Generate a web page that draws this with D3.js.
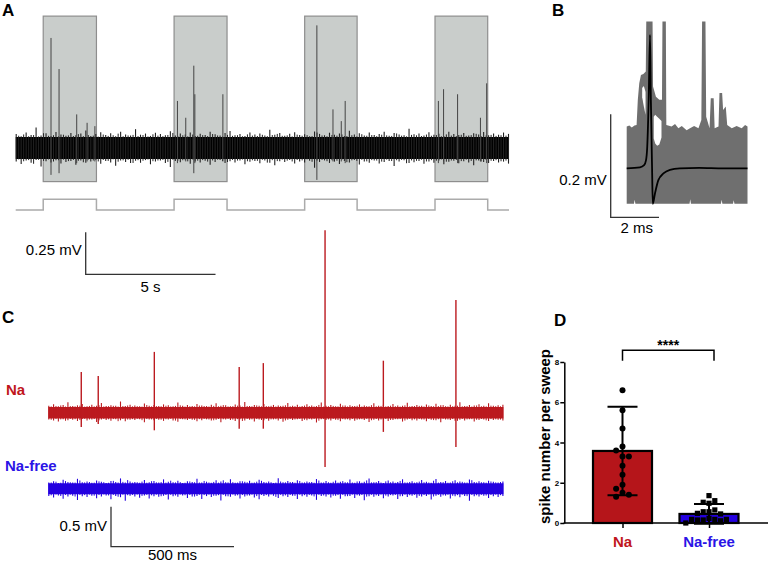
<!DOCTYPE html>
<html><head><meta charset="utf-8">
<script src="https://cdn.jsdelivr.net/npm/d3@7"></script>
<style>
body{margin:0;background:#fff}
svg{display:block}
text{font-family:"Liberation Sans",Arial,Helvetica,sans-serif}
</style>
</head><body>
<svg id="fig" width="770" height="562"></svg>
<script>
// ================= DATA =================
// ---- Panel A : extracellular trace with light stimulation (s, mV) ----
const aDuration = 19;
const aStimOn  = [1.06, 6.10, 11.13, 16.15];
const aStimOff = [3.11, 8.14, 13.15, 18.18];
const aSpikeT    = [1.36,1.67,2.35,2.75,3.05, 6.23,6.55,6.86,6.90,7.98, 11.60,12.22,12.54,12.69, 16.28,16.48,17.02,17.90,18.14];
const aSpikeUp   = [0.655,0.47,0.20,0.15,0.13, 0.28,0.18,0.49,0.32,0.32, 0.73,0.23,0.16,0.28, 0.28,0.35,0.32,0.18,0.385];
const aSpikeDown = [0.16,0.15,0.09,0.08,0.08, 0.09,0.08,0.15,0.09,0.08, 0.19,0.08,0.08,0.09, 0.09,0.08,0.09,0.08,0.09];
// noise: dense core half-width and envelope peaks (µV)
const aNoiseCore = 66;
const aNoiseUp = [84,70,92,78,122,75,88,71,95,80,73,90,76,86,104,72,83,94,77,88,70,97,81,75,112,79,86,72,91,83,76,99,74,87,80,93,71,85,78,96,82,74,89,101,76,84,72,92,80,87,75,108,79,90,73,85,94,77,82,70,98,84,76,91,79,86,72,103,81,88,75,93,78,84,96,73,89,80,76,115,82,87,74,94,79,85,71,97,83,77,90,74,88,81,95,76,86,79,92,84];
const aNoiseDown = [80,95,74,88,72,110,79,86,73,92,84,77,99,75,88,81,70,94,78,86,105,74,83,90,76,88,72,97,81,75,89,113,78,85,73,94,80,87,76,100,83,71,90,79,86,74,96,82,77,91,75,88,102,79,84,72,93,80,87,76,118,83,74,89,81,95,77,86,72,98,80,88,75,92,84,78,107,81,73,90,85,77,94,80,88,74,96,82,76,91,79,87,103,75,84,90,78,86,81,93];

// ---- Panel B : superimposed spikes (ms, mV) ----
const bTopT = [0,0.11,0.21,0.32,0.41,0.46,0.52,0.59,0.69,0.79,0.81,1.07,1.09,1.21,1.35,1.46,1.48,1.62,1.64,1.86,2.0,2.14,2.28,2.48,2.62,2.79,2.97,3.09,3.12,3.26,3.29,3.43,3.48,3.60,3.64,3.80,3.84,3.95,3.99,4.10,4.16,4.35,4.55,4.76,4.90,5.0];
const bTopV = [0.081,0.083,0.079,0.083,0.084,0.133,0.165,0.181,0.183,0.188,0.285,0.285,0.159,0.139,0.133,0.133,0.285,0.285,0.084,0.081,0.086,0.078,0.082,0.074,0.078,0.082,0.078,0.094,0.285,0.285,0.100,0.078,0.136,0.136,0.078,0.081,0.146,0.146,0.113,0.120,0.084,0.078,0.082,0.078,0.084,0.081];
const bBotT = [0,0.30,0.33,0.36,1.20,2.60,2.63,2.66,3.90,3.93,3.96,4.40,4.43,4.46,5.0];
const bBotV = [-0.069,-0.069,-0.061,-0.069,-0.069,-0.069,-0.060,-0.069,-0.069,-0.061,-0.069,-0.069,-0.062,-0.069,-0.069];
const bHoleT   = [1.12,1.18,1.26,1.35,1.44];
const bHoleTop = [0.100,0.104,0.100,0.096,0.092];
const bHoleBot = [0.058,0.048,0.044,0.046,0.060];
const bSliverT   = [0.64,0.71,0.78];
const bSliverTop = [0.156,0.160,0.148];
const bSliverBot = [0.138,0.120,0.104];
const bMeanT = [0,0.55,0.72,0.80,0.85,0.91,0.965,1.0,1.05,1.08,1.17,1.31,1.52,1.79,2.2,3.0,4.0,5.0];
const bMeanV = [0,0.002,0.006,0.016,0.042,0.133,0.259,0.133,0.0,-0.069,-0.049,-0.023,-0.010,-0.003,0,0.001,0,0];

// ---- Panel C : Na vs Na-free traces (ms, mV) ----
const cDuration = 1850;
const cSeries = ["Na","Na-free"];
const cSpikeT    = [134,203,431,776,874,1125,1362,1657];
const cSpikeUp   = [0.51,0.46,0.76,0.57,0.62,2.28,0.65,1.41];
const cSpikeDown = [0.18,0.14,0.22,0.20,0.20,0.68,0.24,0.43];
const cRedCore = 72, cBlueCore = 68;
const cRedUp = [88,105,82,96,130,84,92,110,80,98,86,120,83,94,88,140,85,100,90,82,115,87,96,84,104,92,80,126,88,97,85,108,90,83,99,118,86,93,81,102,89,135,84,95,87,110,82,97,91,86,122,88,99,84,106,90,83,128,87,96,82,112,89,94,85,104,91,80,117,86,98,84,109,90,87,124,83,95,88,101,85,113,92,81,99,87,131,84,96,90,106,86,119,88,94,100];
const cRedDown = [85,96,110,82,93,88,104,80,97,86,115,84,92,100,83,95,108,87,91,81,120,86,94,89,102,84,98,112,82,90,87,106,95,83,99,88,118,85,92,104,81,96,89,110,86,93,100,84,97,113,88,91,83,105,94,86,122,82,90,98,87,108,84,95,101,83,92,116,88,97,85,103,90,82,111,86,94,99,84,107,89,93,118,85,91,102,87,96,83,109,90,86,104,92,88,97];
const cBlueUp = [80,95,74,112,86,78,125,82,90,76,104,88,72,98,84,130,79,92,86,75,110,83,96,78,118,87,81,100,74,93,85,127,80,89,77,106,91,83,120,76,95,88,102,79,114,85,90,73,133,82,97,86,108,78,92,84,122,80,99,75,105,89,83,116,77,94,87,128,81,96,74,103,90,85,119,79,93,82,110,88,76,124,84,97,80,107,91,78,115,86,95,83,101,88,79,92];
const cBlueDown = [90,110,84,125,95,88,140,92,102,86,118,97,83,130,90,105,150,88,96,112,85,122,94,100,87,135,92,99,84,116,96,89,128,91,104,86,145,93,98,88,120,95,85,110,132,90,97,87,114,94,102,86,126,92,99,85,138,91,96,108,88,124,94,90,116,86,142,93,100,89,118,95,84,128,92,103,87,112,96,90,134,88,99,85,120,94,106,89,148,92,97,86,115,93,101,90];

// ---- Panel D : spike number per sweep ----
const dCategories = ["Na","Na-free"];
const dMeans = [3.58, 0.45];
const dSD    = [2.20, 0.49];
const dNaPoints     = [6.6,5.6,4.7,3.8,3.6,3.3,3.3,2.85,2.4,1.9,1.7,1.5,1.3,1.4];
const dNaFreePoints = [1.36,0.98,1.03,1.11,0.56,0.56,0.65,0.48,0.45,0.23,0.15,0.18,0.15,0.11,0.18,0.18,0.0];
const dTicks = [0,2,4,6,8];
const dSignif = "****";
const dYLabel = "spike number per sweep";

// ================= DRAWING =================
const RED = "#bb1a1f", BLUE = "#2400e0";
const svg = d3.select("#fig");
svg.append("rect").attr("width",770).attr("height",562).attr("fill","#fff");

function txt(g, s, x, y, opt={}) {
  return g.append("text").attr("x",x).attr("y",y).text(s)
    .attr("font-size",opt.size||15).attr("font-weight",opt.bold?"bold":"normal")
    .attr("text-anchor",opt.anchor||"start").attr("fill",opt.fill||"#000");
}
// noisy trace: dense core band plus hair-like excursions at each sampled peak
function noisyTrace(g, x, y, core, up, down, color, hairColor) {
  const n = Math.min(up.length, down.length);
  const [x0, x1] = x.range();
  const xi = d3.scaleLinear().domain([0, n - 1]).range([x0 + 0.5, x1 - 0.5]);
  g.append("path").datum([x0, x1])
    .attr("d", d3.area().x(d => d).y0(y(-core / 1000)).y1(y(core / 1000)))
    .attr("fill", color);
  g.append("g").selectAll("line").data(d3.range(n)).join("line")
    .attr("x1", i => xi(i)).attr("x2", i => xi(i))
    .attr("y1", i => y(up[i] / 1000)).attr("y2", i => y(-down[i] / 1000))
    .attr("stroke", hairColor).attr("stroke-width", 1.1);
  // second, offset set of shorter hairs (down values used upward, up values downward)
  g.append("g").selectAll("line").data(d3.range(n - 1)).join("line")
    .attr("x1", i => (xi(i) + xi(i + 1)) / 2).attr("x2", i => (xi(i) + xi(i + 1)) / 2)
    .attr("y1", i => y((core + (down[i] - core) * 0.5) / 1000)).attr("y2", i => y(-(core + (up[i + 1] - core) * 0.5) / 1000))
    .attr("stroke", hairColor).attr("stroke-width", 1);
}
// panel letters
[["A",2,16],["B",552,16],["C",2,323],["D",554,326]].forEach(p=>txt(svg,p[0],p[1],p[2],{size:17,bold:true}));

// ---------- Panel A ----------
const gA = svg.append("g");
const xA = d3.scaleLinear().domain([0,aDuration]).range([15.7,509]);
const yA = d3.scaleLinear().domain([0,1]).range([148,-20]);
const stim = d3.zip(aStimOn, aStimOff);
gA.selectAll("rect.stim").data(stim).join("rect")
  .attr("x",d=>xA(d[0])).attr("width",d=>xA(d[1])-xA(d[0]))
  .attr("y",yA(0.785)).attr("height",yA(-0.2)-yA(0.785))
  .attr("fill","#c9cdcb").attr("stroke","#8e8e8e").attr("stroke-width",1.2);
noisyTrace(gA, xA, yA, aNoiseCore, aNoiseUp, aNoiseDown, "#000", "#222");
gA.selectAll("line.spk").data(aSpikeT).join("line")
  .attr("x1",d=>xA(d)).attr("x2",d=>xA(d))
  .attr("y1",(d,i)=>yA(aSpikeUp[i])).attr("y2",(d,i)=>yA(-aSpikeDown[i]))
  .attr("stroke","#444").attr("stroke-width",1);
// stimulus trace
const yStim = d3.scaleLinear().domain([0,1]).range([210,199.3]);
const stimPts = [[0,0]];
stim.forEach(([on,off])=>{stimPts.push([on,0],[on,1],[off,1],[off,0]);});
stimPts.push([aDuration,0]);
gA.append("path").datum(stimPts)
  .attr("d",d3.line().x(d=>xA(d[0])).y(d=>yStim(d[1])))
  .attr("fill","none").attr("stroke","#ababab").attr("stroke-width",1.5);
// scale bar A
{
  const x0=85.7, y0=274.3;
  const h = yA(0)-yA(0.25), w = xA(5)-xA(0);
  gA.append("path").attr("d",`M${x0},${y0-h}V${y0}H${x0+w}`).attr("fill","none").attr("stroke","#333").attr("stroke-width",1.3);
  txt(gA,"0.25 mV",x0-4,255,{anchor:"end"});
  txt(gA,"5 s",x0+w/2,292,{anchor:"middle"});
}

// ---------- Panel B ----------
const gB = svg.append("g");
const xB = d3.scaleLinear().domain([0,5]).range([626.7,747.5]);
const yB = d3.scaleLinear().domain([0,1]).range([168.3,168.3-515]);
const envTop = bTopT.map((t,i)=>[t,bTopV[i]]);
const envBot = bBotT.map((t,i)=>[t,bBotV[i]]).reverse();
const lineB = d3.line().x(d=>xB(d[0])).y(d=>yB(d[1]));
gB.append("path").attr("d",lineB(envTop.concat(envBot))+"Z").attr("fill","#6f6f6f");
function holeArea(T,top,bot){
  const pts = T.map((t,i)=>[t,top[i]]).concat(T.map((t,i)=>[t,bot[i]]).reverse());
  gB.append("path").attr("d",lineB(pts)+"Z").attr("fill","#fff");
}
holeArea(bHoleT,bHoleTop,bHoleBot);
holeArea(bSliverT,bSliverTop,bSliverBot);
gB.append("path").datum(bMeanT.map((t,i)=>[t,bMeanV[i]]))
  .attr("d",d3.line().x(d=>xB(d[0])).y(d=>yB(d[1])).curve(d3.curveMonotoneX))
  .attr("fill","none").attr("stroke","#000").attr("stroke-width",1.8);
{
  const x0=610.7, y0=217.3;
  const h = yB(0)-yB(0.2), w = xB(2)-xB(0);
  gB.append("path").attr("d",`M${x0},${y0-h}V${y0}H${x0+w}`).attr("fill","none").attr("stroke","#333").attr("stroke-width",1.3);
  txt(gB,"0.2 mV",x0-4,185,{anchor:"end"});
  txt(gB,"2 ms",x0+w/2+2,233,{anchor:"middle"});
}

// ---------- Panel C ----------
const gC = svg.append("g");
const xC = d3.scaleLinear().domain([0,cDuration]).range([48.3,503.4]);
const yRed = d3.scaleLinear().domain([0,1]).range([412.7,332.7]);
const yBlue = d3.scaleLinear().domain([0,1]).range([488.8,408.8]);
noisyTrace(gC, xC, yRed, cRedCore, cRedUp, cRedDown, RED, RED);
gC.selectAll("line.spk").data(cSpikeT).join("line")
  .attr("x1",d=>xC(d)).attr("x2",d=>xC(d))
  .attr("y1",(d,i)=>yRed(cSpikeUp[i])).attr("y2",(d,i)=>yRed(-cSpikeDown[i]))
  .attr("stroke",RED).attr("stroke-width",1.4);
noisyTrace(gC, xC, yBlue, cBlueCore, cBlueUp, cBlueDown, BLUE, BLUE);
txt(gC,cSeries[0],6,395,{bold:true,fill:"#c0161c"});
txt(gC,cSeries[1],5,471,{bold:true,fill:"#2a14e6"});
{
  const x0=111, y0=546.7;
  const h = yRed(0)-yRed(0.5), w = xC(500)-xC(0);
  gC.append("path").attr("d",`M${x0},${y0-h}V${y0}H${x0+w}`).attr("fill","none").attr("stroke","#333").attr("stroke-width",1.3);
  txt(gC,"0.5 mV",x0-4,531,{anchor:"end"});
  txt(gC,"500 ms",x0+w/2,560,{anchor:"middle"});
}

// ---------- Panel D ----------
const gD = svg.append("g");
const yD = d3.scaleLinear().domain([0,8]).range([523,362]);
const xD = d3.scalePoint().domain(dCategories).range([622.5,709]);
const barW = 59;
const axX = 564.3;
gD.selectAll("rect.bar").data(dCategories).join("rect")
  .attr("x",d=>xD(d)-barW/2).attr("width",barW)
  .attr("y",(d,i)=>yD(dMeans[i])).attr("height",(d,i)=>yD(0)-yD(dMeans[i]))
  .attr("fill",(d,i)=>i===0?"#b5151a":BLUE).attr("stroke","#000").attr("stroke-width",2.2);
dCategories.forEach((c,i)=>{
  const cx = xD(c), lo = yD(dMeans[i]-dSD[i]), hi = yD(dMeans[i]+dSD[i]);
  gD.append("path").attr("d",`M${cx},${lo}V${hi}M${cx-15},${hi}H${cx+15}M${cx-15},${lo}H${cx+15}`)
    .attr("fill","none").attr("stroke","#000").attr("stroke-width",2);
});
function dodge(vals, diam){
  const placed=[];
  return vals.map(v=>{
    const py=yD(v); let off=0;
    for(let k=0;k<30;k++){
      const cand = k===0?0:(k%2?-1:1)*Math.ceil(k/2)*diam;
      if(placed.every(p=>Math.hypot(p.x-cand,p.y-py)>=diam-0.3)){off=cand;break;}
    }
    placed.push({x:off,y:py}); return off;
  });
}
const naOff = dodge(dNaPoints, 6.4);
gD.selectAll("circle.pt").data(dNaPoints).join("circle")
  .attr("cx",(d,i)=>xD("Na")+naOff[i]).attr("cy",d=>yD(d)).attr("r",3)
  .attr("fill","#000");
const nfOff = dodge(dNaFreePoints, 5.8);
gD.selectAll("rect.pt").data(dNaFreePoints).join("rect")
  .attr("x",(d,i)=>xD("Na-free")+nfOff[i]-2.6).attr("y",d=>yD(d)-2.6)
  .attr("width",5.2).attr("height",5.2).attr("fill","#000");
const yAxis = d3.axisLeft(yD).tickValues(dTicks).tickSize(4).tickPadding(1).tickSizeOuter(0);
const gy = gD.append("g").attr("transform",`translate(${axX},0)`).call(yAxis);
gy.selectAll("path,line").attr("stroke","#000").attr("stroke-width",1.5);
gy.selectAll("text").attr("font-size",8).attr("font-weight","bold").attr("fill","#000")
  .attr("font-family","'Liberation Sans',Arial,sans-serif");
gD.append("line").attr("x1",axX-0.7).attr("x2",768).attr("y1",yD(0)).attr("y2",yD(0))
  .attr("stroke","#000").attr("stroke-width",1.5);
const xAxis = d3.axisBottom(xD).tickSize(5).tickFormat("");
const gx = gD.append("g").attr("transform",`translate(0,${yD(0)})`).call(xAxis);
gx.select(".domain").remove();
gx.selectAll("line").attr("stroke","#000").attr("stroke-width",1.5);
dCategories.forEach((c,i)=>txt(gD,c,xD(c),546.5,{anchor:"middle",bold:true,fill:i===0?"#c0161c":"#2a14e6"}));
gD.append("text").attr("transform",`translate(549.5,${(yD(0)+yD(8))/2-6}) rotate(-90)`)
  .attr("text-anchor","middle").attr("font-size",15).attr("font-weight","bold").text(dYLabel);
{
  const x1 = xD("Na"), x2 = xD("Na-free")+5, yt = yD(8.58), yb = yD(8.06);
  gD.append("path").attr("d",`M${x1},${yb}V${yt}H${x2}V${yb}`).attr("fill","none").attr("stroke","#000").attr("stroke-width",1.5);
  txt(gD,dSignif,(x1+x2)/2,349.5,{anchor:"middle",bold:true,size:14});
}
</script>
</body></html>
